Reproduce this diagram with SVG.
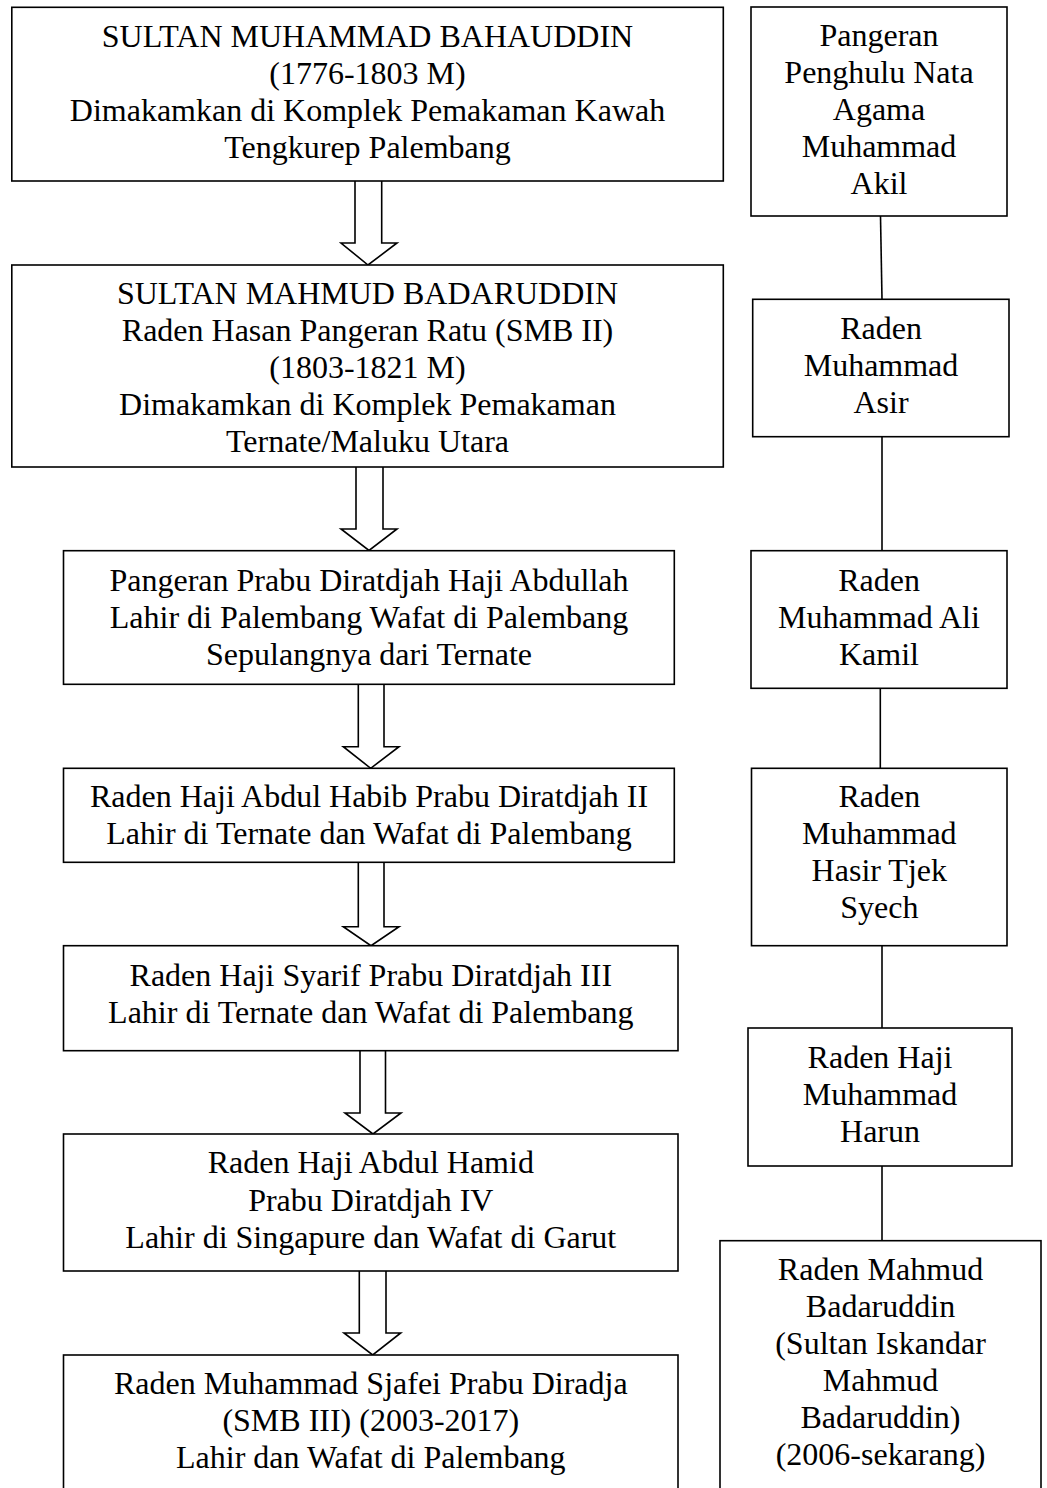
<svg xmlns="http://www.w3.org/2000/svg" width="1047" height="1488" viewBox="0 0 1047 1488">
<style>
.box{fill:#fff;stroke:#000;stroke-width:1.6}
.t{font-family:"Liberation Serif","Times New Roman",serif;font-size:32px;fill:#000;text-anchor:middle}
.arr{fill:#fff;stroke:#000;stroke-width:1.6;stroke-linejoin:miter}
.ln{stroke:#000;stroke-width:1.6;fill:none}
</style>
<rect width="1047" height="1488" fill="#fff"/>
<g id="connectors">
<path class="arr" d="M355,181 V243 H341 L368,265 L397,243 H381.7 V181"/>
<path class="arr" d="M356,467 V529 H341 L369,550.5 L397,529 H383 V467"/>
<path class="arr" d="M358.3,684.3 V746.7 H343.3 L370.7,768.3 L399,746.7 H384 V684.3"/>
<path class="arr" d="M358.3,862.3 V926.7 H343.3 L371,945.7 L399,926.7 H384 V862.3"/>
<path class="arr" d="M360,1050.7 V1113 H345 L373,1134 L401,1113 H385.5 V1050.7"/>
<path class="arr" d="M359.3,1271 V1333 H344 L372.7,1355 L400.7,1333 H386 V1271"/>
<line class="ln" x1="880.5" y1="216" x2="882" y2="299.3"/>
<line class="ln" x1="882" y1="436.7" x2="882" y2="550.7"/>
<line class="ln" x1="880.3" y1="688.3" x2="880.3" y2="768.3"/>
<line class="ln" x1="882" y1="945.7" x2="882" y2="1028"/>
<line class="ln" x1="882" y1="1166" x2="882" y2="1240.7"/>
</g>
<g id="n1">
<rect class="box" x="11.8" y="7.3" width="711.5" height="173.7"/>
<text class="t" x="367.5" y="46.5">SULTAN MUHAMMAD BAHAUDDIN</text>
<text class="t" x="367.5" y="83.5">(1776-1803 M)</text>
<text class="t" x="367.5" y="120.5">Dimakamkan di Komplek Pemakaman Kawah</text>
<text class="t" x="367.5" y="157.5">Tengkurep Palembang</text>
</g>
<g id="n2">
<rect class="box" x="11.8" y="265" width="711.5" height="202"/>
<text class="t" x="367.5" y="304">SULTAN MAHMUD BADARUDDIN</text>
<text class="t" x="367.5" y="341">Raden Hasan Pangeran Ratu (SMB II)</text>
<text class="t" x="367.5" y="378">(1803-1821 M)</text>
<text class="t" x="367.5" y="415">Dimakamkan di Komplek Pemakaman</text>
<text class="t" x="367.5" y="452">Ternate/Maluku Utara</text>
</g>
<g id="n3">
<rect class="box" x="63.5" y="550.7" width="610.8" height="133.6"/>
<text class="t" x="369" y="591">Pangeran Prabu Diratdjah Haji Abdullah</text>
<text class="t" x="369" y="628">Lahir di Palembang Wafat di Palembang</text>
<text class="t" x="369" y="665">Sepulangnya dari Ternate</text>
</g>
<g id="n4">
<rect class="box" x="63.5" y="768.3" width="610.8" height="94"/>
<text class="t" x="369" y="806.7">Raden Haji Abdul Habib Prabu Diratdjah II</text>
<text class="t" x="369" y="844">Lahir di Ternate dan Wafat di Palembang</text>
</g>
<g id="n5">
<rect class="box" x="63.5" y="945.7" width="614.5" height="105"/>
<text class="t" x="370.8" y="986">Raden Haji Syarif Prabu Diratdjah III</text>
<text class="t" x="370.8" y="1023.3">Lahir di Ternate dan Wafat di Palembang</text>
</g>
<g id="n6">
<rect class="box" x="63.5" y="1134" width="614.5" height="137"/>
<text class="t" x="370.8" y="1173.3">Raden Haji Abdul Hamid</text>
<text class="t" x="370.8" y="1210.5">Prabu Diratdjah IV</text>
<text class="t" x="370.8" y="1247.5">Lahir di Singapure dan Wafat di Garut</text>
</g>
<g id="n7">
<rect class="box" x="63.5" y="1355" width="614.5" height="160"/>
<text class="t" x="370.8" y="1394">Raden Muhammad Sjafei Prabu Diradja</text>
<text class="t" x="370.8" y="1431">(SMB III) (2003-2017)</text>
<text class="t" x="370.8" y="1468">Lahir dan Wafat di Palembang</text>
</g>
<g id="nA">
<rect class="box" x="751" y="7" width="256" height="209"/>
<text class="t" x="879" y="46">Pangeran</text>
<text class="t" x="879" y="83.3">Penghulu Nata</text>
<text class="t" x="879" y="120.3">Agama</text>
<text class="t" x="879" y="157.3">Muhammad</text>
<text class="t" x="879" y="194.3">Akil</text>
</g>
<g id="nB">
<rect class="box" x="752.7" y="299.3" width="256.3" height="137.4"/>
<text class="t" x="881" y="339.3">Raden</text>
<text class="t" x="881" y="376">Muhammad</text>
<text class="t" x="881" y="413.3">Asir</text>
</g>
<g id="nC">
<rect class="box" x="751" y="550.7" width="256" height="137.6"/>
<text class="t" x="879" y="590.7">Raden</text>
<text class="t" x="879" y="627.7">Muhammad Ali</text>
<text class="t" x="879" y="665">Kamil</text>
</g>
<g id="nD">
<rect class="box" x="751.5" y="768.3" width="255.5" height="177.4"/>
<text class="t" x="879.3" y="806.7">Raden</text>
<text class="t" x="879.3" y="844">Muhammad</text>
<text class="t" x="879.3" y="881">Hasir Tjek</text>
<text class="t" x="879.3" y="918">Syech</text>
</g>
<g id="nE">
<rect class="box" x="748" y="1028" width="264" height="138"/>
<text class="t" x="880" y="1068.3">Raden Haji</text>
<text class="t" x="880" y="1105">Muhammad</text>
<text class="t" x="880" y="1141.7">Harun</text>
</g>
<g id="nF">
<rect class="box" x="720" y="1240.7" width="321" height="280"/>
<text class="t" x="880.5" y="1280">Raden Mahmud</text>
<text class="t" x="880.5" y="1317">Badaruddin</text>
<text class="t" x="880.5" y="1354">(Sultan Iskandar</text>
<text class="t" x="880.5" y="1391">Mahmud</text>
<text class="t" x="880.5" y="1428">Badaruddin)</text>
<text class="t" x="880.5" y="1465">(2006-sekarang)</text>
</g>
</svg>
